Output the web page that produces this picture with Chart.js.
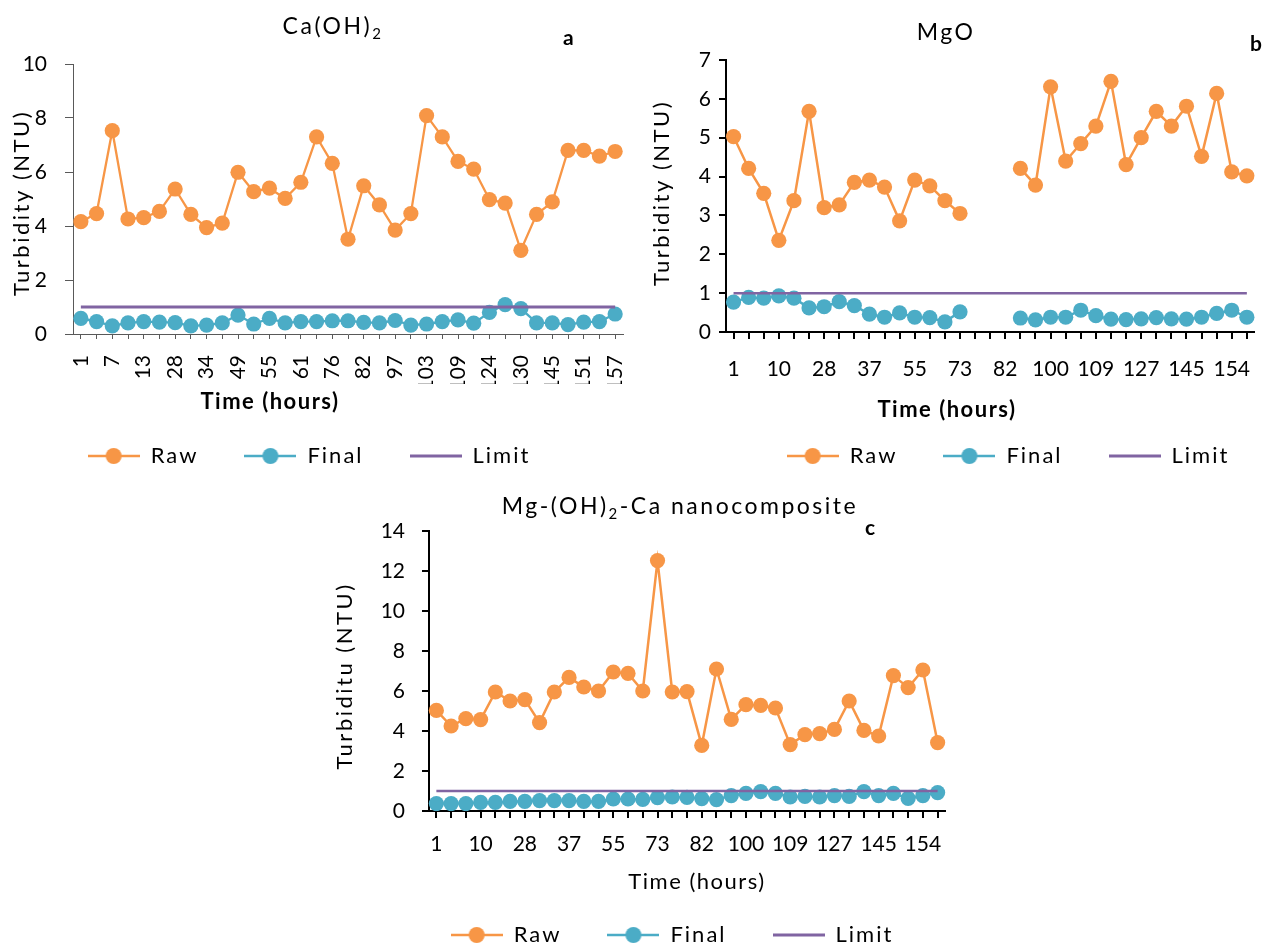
<!DOCTYPE html>
<html>
<head>
<meta charset="utf-8">
<title>Turbidity</title>
<script src="https://cdn.jsdelivr.net/npm/chart.js@4.4.1/dist/chart.umd.min.js"></script>
<style>
  html, body { margin: 0; padding: 0; background: #fff; }
  body { width: 1262px; height: 948px; position: relative; overflow: hidden; }
  .panel { position: absolute; }
</style>
</head>
<body>
<div class="panel" style="left:0;top:0;width:640px;height:480px"><canvas id="chartA"></canvas></div>
<div class="panel" style="left:640px;top:0;width:622px;height:480px"><canvas id="chartB"></canvas></div>
<div class="panel" style="left:320px;top:480px;width:640px;height:468px"><canvas id="chartC"></canvas></div>
<script>
// time axis (hours) - only every 2nd (a) or 3rd (b, c) label is printed
const hoursA = [1, 4, 7, 10, 13, 25, 28, 31, 34, 46, 49, 52, 55, 58, 61, 73, 76, 79, 82, 94, 97, 100, 103, 106, 109, 121, 124, 127, 130, 142, 145, 148, 151, 154, 157];
const hoursBC = [1, 4, 7, 10, 13, 25, 28, 31, 34, 37, 49, 52, 55, 58, 61, 73, 76, 79, 82, 94, 97, 100, 103, 106, 109, 121, 124, 127, 130, 142, 145, 148, 151, 154, 157];

// a) Ca(OH)2
const rawA = [4.16, 4.46, 7.53, 4.26, 4.31, 4.54, 5.37, 4.43, 3.94, 4.11, 5.99, 5.27, 5.40, 5.02, 5.62, 7.30, 6.32, 3.51, 5.49, 4.78, 3.85, 4.46, 8.09, 7.30, 6.39, 6.11, 4.98, 4.85, 3.10, 4.43, 4.89, 6.80, 6.80, 6.59, 6.76];
const finalA = [0.58, 0.46, 0.30, 0.41, 0.46, 0.44, 0.42, 0.30, 0.33, 0.41, 0.70, 0.37, 0.58, 0.41, 0.46, 0.46, 0.49, 0.49, 0.43, 0.41, 0.50, 0.33, 0.37, 0.46, 0.52, 0.40, 0.80, 1.09, 0.94, 0.41, 0.41, 0.35, 0.44, 0.46, 0.74];
const limitA = [1, 1, 1, 1, 1, 1, 1, 1, 1, 1, 1, 1, 1, 1, 1, 1, 1, 1, 1, 1, 1, 1, 1, 1, 1, 1, 1, 1, 1, 1, 1, 1, 1, 1, 1];

// b) MgO (no readings at 76-82 h)
const rawB = [5.03, 4.21, 3.57, 2.36, 3.38, 5.68, 3.20, 3.27, 3.85, 3.91, 3.73, 2.86, 3.91, 3.76, 3.38, 3.05, null, null, null, 4.21, 3.78, 6.31, 4.40, 4.85, 5.30, 6.45, 4.31, 5.00, 5.68, 5.30, 5.81, 4.52, 6.14, 4.12, 4.02];
const finalB = [0.77, 0.89, 0.87, 0.93, 0.87, 0.62, 0.65, 0.78, 0.68, 0.46, 0.38, 0.49, 0.38, 0.37, 0.26, 0.52, null, null, null, 0.36, 0.31, 0.38, 0.38, 0.56, 0.42, 0.33, 0.32, 0.34, 0.37, 0.34, 0.33, 0.38, 0.48, 0.56, 0.38];
const limitB = [1, 1, 1, 1, 1, 1, 1, 1, 1, 1, 1, 1, 1, 1, 1, 1, 1, 1, 1, 1, 1, 1, 1, 1, 1, 1, 1, 1, 1, 1, 1, 1, 1, 1, 1];

// c) Mg-(OH)2-Ca nanocomposite
const rawC = [5.03, 4.25, 4.62, 4.57, 5.95, 5.50, 5.57, 4.42, 5.95, 6.68, 6.20, 6.00, 6.95, 6.88, 6.00, 12.52, 5.95, 5.97, 3.28, 7.10, 4.58, 5.32, 5.28, 5.15, 3.32, 3.82, 3.87, 4.08, 5.50, 4.03, 3.75, 6.77, 6.17, 7.05, 3.42];
const finalC = [0.37, 0.37, 0.37, 0.43, 0.43, 0.48, 0.48, 0.52, 0.52, 0.52, 0.48, 0.48, 0.60, 0.60, 0.58, 0.67, 0.70, 0.68, 0.62, 0.57, 0.77, 0.88, 0.97, 0.88, 0.70, 0.73, 0.70, 0.77, 0.73, 0.97, 0.77, 0.88, 0.63, 0.77, 0.92];
const limitC = [1, 1, 1, 1, 1, 1, 1, 1, 1, 1, 1, 1, 1, 1, 1, 1, 1, 1, 1, 1, 1, 1, 1, 1, 1, 1, 1, 1, 1, 1, 1, 1, 1, 1, 1];

const ORANGE = '#F79646';
const BLUE = '#4BACC6';
const PURPLE = '#8064A2';
const FONT = 'Lato, "Open Sans", sans-serif';

Chart.defaults.font.family = FONT;
Chart.defaults.color = '#000';

// legend icons: line with a dot in the middle, like the spreadsheet legend
function legendIcon(color, withDot) {
  const c = document.createElement('canvas');
  c.width = 52;
  c.height = 18;
  const g = c.getContext('2d');
  g.strokeStyle = color;
  g.lineWidth = withDot ? 2.5 : 3;
  g.beginPath();
  g.moveTo(0, 9);
  g.lineTo(52, 9);
  g.stroke();
  if (withDot) {
    g.fillStyle = color;
    g.beginPath();
    g.arc(26, 9, 8, 0, Math.PI * 2);
    g.fill();
  }
  return c;
}
const ICONS = [legendIcon(ORANGE, true), legendIcon(BLUE, true), legendIcon(PURPLE, false)];

// wraps a method so the text it draws/measures gets wider letter spacing
function spaced(fn, spacing) {
  return function (...args) {
    const c = this.ctx;
    c.save();
    c.letterSpacing = spacing;
    const r = fn.apply(this, args);
    c.restore();
    return r;
  };
}

// titles, axis titles and the bold panel letter
const panelText = {
  id: 'panelText',
  afterDraw(chart, args, opts) {
    const ctx = chart.ctx;
    ctx.save();
    ctx.fillStyle = '#000';
    ctx.textBaseline = 'middle';
    ctx.textAlign = 'left';

    // chart title, parts may be subscript
    ctx.letterSpacing = '2.5px';
    const fontOf = p => (p.sub ? '15px ' : '23px ') + FONT;
    const widths = opts.title.map(p => { ctx.font = fontOf(p); return ctx.measureText(p.t).width; });
    let x = opts.titleX - widths.reduce((a, b) => a + b, 0) / 2;
    opts.title.forEach((p, i) => {
      ctx.font = fontOf(p);
      ctx.fillText(p.t, x, opts.titleY + (p.sub ? 7 : 0));
      x += widths[i];
    });

    // x axis title
    ctx.textAlign = 'center';
    ctx.letterSpacing = '1.5px';
    ctx.font = opts.xBold ? 'bold 22px ' + FONT : '22px ' + FONT;
    ctx.fillText('Time (hours)', opts.xTitleX, opts.xTitleY);

    // y axis title
    ctx.letterSpacing = '2.5px';
    ctx.font = '22px ' + FONT;
    ctx.save();
    ctx.translate(opts.yTitleX, opts.yTitleY);
    ctx.rotate(-Math.PI / 2);
    ctx.fillText(opts.yTitle, 0, 0);
    ctx.restore();

    // panel letter
    ctx.textAlign = 'left';
    ctx.letterSpacing = '0px';
    ctx.font = 'bold 21px ' + FONT;
    ctx.fillText(opts.letter, opts.letterX, opts.letterY);
    ctx.restore();
  }
};

// legend spacing, legend position and clipping of the rotated tick labels
const fixups = {
  id: 'fixups',
  afterInit(chart) {
    const lg = chart.legend;
    lg.fit = spaced(lg.fit, '2px');
    lg.draw = spaced(lg.draw, '2px');
  },
  afterLayout(chart, args, opts) {
    const lg = chart.legend;
    const w = lg.right - lg.left;
    lg.left = opts.x - w / 2;
    lg.right = lg.left + w;
    lg.top = opts.y - opts.pad - opts.size / 2;
    lg.bottom = opts.y + opts.size;

    const sx = chart.scales.x;
    if (opts.clipY && !sx._clipped) {
      const orig = sx.drawLabels;
      sx.drawLabels = function (ca) {
        const c = this.ctx;
        c.save();
        c.beginPath();
        c.rect(0, 0, chart.width, opts.clipY);
        c.clip();
        orig.call(this, ca);
        c.restore();
      };
      sx._clipped = true;
    }
  }
};

function buildChart(id, p) {
  const tickFont = { family: FONT, size: 21 };
  return new Chart(document.getElementById(id), {
    type: 'line',
    data: {
      labels: p.labels,
      datasets: [
        { label: 'Raw', data: p.raw, borderColor: ORANGE, backgroundColor: ORANGE, pointBackgroundColor: ORANGE,
          borderWidth: p.lineW, pointRadius: 7.6, pointBorderWidth: 0, spanGaps: false, order: 2 },
        { label: 'Final', data: p.final, borderColor: BLUE, backgroundColor: BLUE, pointBackgroundColor: BLUE,
          borderWidth: p.lineW, pointRadius: 7.6, pointBorderWidth: 0, spanGaps: false, order: 1 },
        { label: 'Limit', data: p.limit, borderColor: PURPLE, backgroundColor: PURPLE,
          borderWidth: p.limitW, pointRadius: 0, order: 0 }
      ]
    },
    options: {
      responsive: true,
      maintainAspectRatio: false,
      animation: false,
      devicePixelRatio: 1,
      layout: { padding: p.padding },
      scales: {
        x: {
          type: 'category',
          offset: true,
          ticks: {
            autoSkip: false,
            minRotation: p.rot,
            maxRotation: p.rot,
            padding: p.xTickPad,
            color: '#000',
            font: tickFont,
            callback(v, i) { return i % p.every === 0 ? this.getLabelForValue(v) : ''; }
          },
          grid: { display: true, drawOnChartArea: false, offset: false, tickLength: p.xTickLen, color: p.axisColor, lineWidth: p.axisW },
          border: { display: true, color: p.axisColor, width: p.axisW },
          title: { display: false },
          afterFit(scale) { scale.height = p.xHeight; scale.paddingLeft = 0; scale.paddingRight = 0; }
        },
        y: {
          min: 0,
          max: p.yMax,
          ticks: { stepSize: p.yStep, padding: p.yTickPad, color: '#000', font: tickFont },
          grid: { display: true, drawOnChartArea: false, tickLength: p.yTickLen, color: p.axisColor, lineWidth: p.axisW },
          border: { display: true, color: p.axisColor, width: p.axisW },
          title: { display: false },
          afterFit(scale) { scale.width = p.yWidth; scale.paddingTop = 0; scale.paddingBottom = 0; }
        }
      },
      plugins: {
        tooltip: { enabled: false },
        legend: {
          position: 'bottom',
          align: 'center',
          maxHeight: 40,
          labels: {
            usePointStyle: true,
            pointStyleWidth: 52,
            boxHeight: 18,
            padding: 46,
            color: '#000',
            font: { family: FONT, size: 22 },
            sort: (a, b) => a.datasetIndex - b.datasetIndex,
            generateLabels(chart) {
              const items = Chart.defaults.plugins.legend.labels.generateLabels(chart);
              items.forEach(it => { it.pointStyle = ICONS[it.datasetIndex]; });
              return items;
            }
          }
        },
        fixups: { x: p.legendX, y: p.legendY, pad: 46, size: 22, clipY: p.clipY },
        panelText: p.text
      }
    },
    plugins: [fixups, panelText]
  });
}

buildChart('chartA', {
  labels: hoursA, raw: rawA, final: finalA, limit: limitA,
  yMax: 10, yStep: 2, yWidth: 73, yTickPad: 18, yTickLen: 8,
  rot: 90, every: 2, xTickPad: 16, xTickLen: 5, xHeight: 82, clipY: 384,
  axisColor: '#595959', axisW: 1, lineW: 2.3, limitW: 3,
  padding: { top: 64, right: 17, bottom: 24, left: 0 },
  legendX: 309, legendY: 456,
  text: { title: [{ t: 'Ca(OH)' }, { t: '2', sub: true }], titleX: 333, titleY: 27,
    letter: 'a', letterX: 563, letterY: 38,
    xTitleX: 270, xTitleY: 402, xBold: true,
    yTitle: 'Turbidity (NTU)', yTitleX: 22, yTitleY: 203 }
});

buildChart('chartB', {
  labels: hoursBC, raw: rawB, final: finalB, limit: limitB,
  yMax: 7, yStep: 1, yWidth: 86, yTickPad: 8, yTickLen: 7,
  rot: 0, every: 3, xTickPad: 18, xTickLen: 7, xHeight: 92, clipY: 0,
  axisColor: '#000', axisW: 2, lineW: 2.5, limitW: 2.5,
  padding: { top: 60, right: 0, bottom: 16, left: 0 },
  legendX: 368, legendY: 456,
  text: { title: [{ t: 'MgO' }], titleX: 306, titleY: 33,
    letter: 'b', letterX: 610, letterY: 44,
    xTitleX: 307, xTitleY: 410, xBold: true,
    yTitle: 'Turbidity (NTU)', yTitleX: 22, yTitleY: 193 }
});

buildChart('chartC', {
  labels: hoursBC, raw: rawC, final: finalC, limit: limitC,
  yMax: 14, yStep: 2, yWidth: 109, yTickPad: 17, yTickLen: 7,
  rot: 0, every: 3, xTickPad: 14, xTickLen: 7, xHeight: 85, clipY: 0,
  axisColor: '#000', axisW: 2, lineW: 2.5, limitW: 2.5,
  padding: { top: 51, right: 15, bottom: 12, left: 0 },
  legendX: 352, legendY: 455,
  text: { title: [{ t: 'Mg-(OH)' }, { t: '2', sub: true }, { t: '-Ca nanocomposite' }], titleX: 360, titleY: 27,
    letter: 'c', letterX: 545, letterY: 48,
    xTitleX: 377, xTitleY: 402, xBold: false,
    yTitle: 'Turbiditu (NTU)', yTitleX: 25, yTitleY: 196 }
});
</script>
</body>
</html>
